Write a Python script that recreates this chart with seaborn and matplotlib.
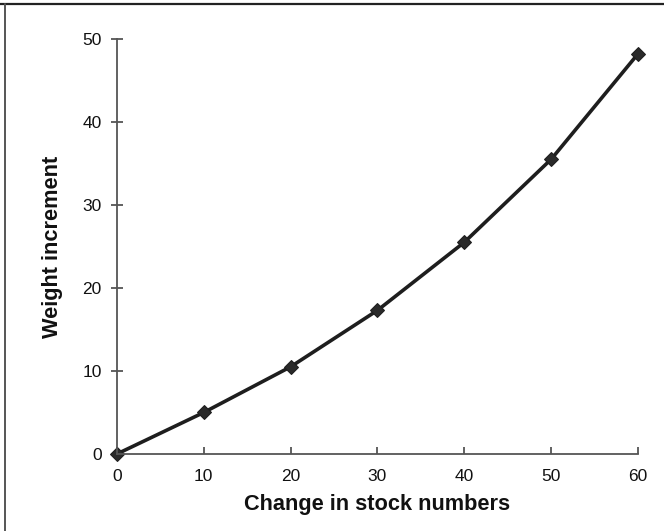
import matplotlib
matplotlib.use("Agg")
import matplotlib.pyplot as plt
import seaborn as sns
import pandas as pd
from matplotlib.lines import Line2D

# Stock change vs. weight increment
stock_change = [0, 10, 20, 30, 40, 50, 60]
weight_increment = [0, 5.0, 10.5, 17.3, 25.5, 35.5, 48.2]
x_ticks = [0, 10, 20, 30, 40, 50, 60]
y_ticks = [0, 10, 20, 30, 40, 50]

sns.set_style("white")
plt.rcParams["font.family"] = ["Liberation Sans", "DejaVu Sans"]

df = pd.DataFrame({"stock": stock_change, "weight": weight_increment})

fig = plt.figure(figsize=(6.64, 5.31), dpi=100)
ax = fig.add_axes([0.176, 0.145, 0.785, 0.782])

sns.lineplot(data=df, x="stock", y="weight", ax=ax, color="#1e1e1e",
             linewidth=2.6, marker="D", markersize=7.5, markeredgecolor="#1e1e1e",
             markerfacecolor="#2a2a2a", clip_on=False)

ax.set_xlim(0, 60)
ax.set_ylim(0, 50)
ax.set_xticks(x_ticks)
ax.set_yticks(y_ticks)
ax.tick_params(axis="both", which="major", bottom=True, left=True,
               labelsize=12.5, colors="#555555", labelcolor="#111111",
               width=1.3)
ax.tick_params(axis="y", length=8, direction="inout", pad=7)
ax.tick_params(axis="x", length=5, direction="in", pad=11)

for side in ("top", "right"):
    ax.spines[side].set_visible(False)
for side in ("left", "bottom"):
    ax.spines[side].set_color("#555555")
    ax.spines[side].set_linewidth(1.3)

ax.set_xlabel("Change in stock numbers", fontsize=15.7, fontweight="bold",
              color="#111111", labelpad=7)
ax.set_ylabel("Weight increment", fontsize=15.7, fontweight="bold",
              color="#111111", labelpad=14)

# Page frame along the top and left edges
fig.add_artist(Line2D([0.0, 1.0], [0.993, 0.993], transform=fig.transFigure,
                      color="#222222", linewidth=1.6))
fig.add_artist(Line2D([0.008, 0.008], [0.0, 0.993], transform=fig.transFigure,
                      color="#555555", linewidth=1.4))

fig.savefig("out.png", dpi=100)
